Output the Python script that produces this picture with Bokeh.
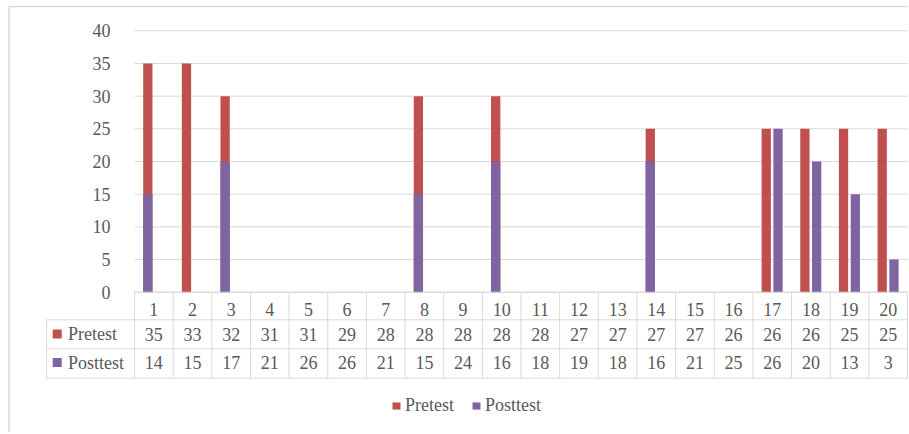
from bokeh.plotting import figure
from bokeh.models import (Range1d, FixedTicker, Legend, LegendItem, ColumnDataSource)
from bokeh.core.properties import value
from bokeh.embed import file_html
from bokeh.resources import INLINE

# ---------------- data ----------------
categories = [str(i) for i in range(1, 21)]
series_names = ["Pretest", "Posttest"]
# values shown in the data table
pretest = [35, 33, 32, 31, 31, 29, 28, 28, 28, 28, 28, 27, 27, 27, 27, 26, 26, 26, 25, 25]
posttest = [14, 15, 17, 21, 26, 26, 21, 15, 24, 16, 18, 19, 18, 16, 21, 25, 26, 20, 13, 3]
# bar heights as drawn in the chart
pretest_bar = [35, 35, 30, 0, 0, 0, 0, 30, 0, 30, 0, 0, 0, 25, 0, 0, 25, 25, 25, 25]
posttest_bar = [15, 0, 20, 0, 0, 0, 0, 15, 0, 20, 0, 0, 0, 20, 0, 0, 25, 20, 15, 5]
y_ticks = [0, 5, 10, 15, 20, 25, 30, 35, 40]

# ---------------- styles ----------------
RED = "#C0504D"
PURPLE = "#8064A2"
GRID = "#D9D9D9"
TXT = "#595959"
FONT = "Liberation Serif"
FS = "18px"

W, H = 908, 432
PXX = 38.65   # px per x unit
PXY = 6.535   # px per y unit
x0 = 0.5 - 134 / PXX
x1 = x0 + W / PXX
y1 = 40 + 30.3 / PXY
y0 = y1 - H / PXY

p = figure(width=W, height=H, output_backend="svg", toolbar_location=None,
           x_range=Range1d(x0, x1), y_range=Range1d(y0, y1),
           min_border=0, min_border_left=0, min_border_right=0,
           min_border_top=0, min_border_bottom=0)
p.outline_line_color = None
p.background_fill_color = "white"
p.border_fill_color = "white"
p.xgrid.visible = False
p.ygrid.visible = False

xs = [float(c) for c in categories]
n = len(xs)

# y axis at left edge of the table area
p.yaxis.fixed_location = 0.5
p.yaxis.ticker = FixedTicker(ticks=y_ticks)
p.yaxis.axis_line_color = None
p.yaxis.major_tick_line_color = None
p.yaxis.minor_tick_line_color = None
p.yaxis.major_label_standoff = 18
p.yaxis.major_label_text_font = FONT
p.yaxis.major_label_text_font_size = FS
p.yaxis.major_label_text_color = TXT

# x axis labels = table header row
p.xaxis.fixed_location = 0
p.xaxis.ticker = FixedTicker(ticks=xs)
p.xaxis.major_label_overrides = {float(c): c for c in categories}
p.xaxis.axis_line_color = None
p.xaxis.major_tick_line_color = None
p.xaxis.minor_tick_line_color = None
p.xaxis.major_label_standoff = 5
p.xaxis.major_label_text_font = FONT
p.xaxis.major_label_text_font_size = FS
p.xaxis.major_label_text_color = TXT

# gridlines (only over the plotting area)
p.segment(x0=[0.5] * len(y_ticks), x1=[20.5] * len(y_ticks), y0=y_ticks, y1=y_ticks,
          line_color=GRID, line_width=1)

# outer chart border (left & top)
bx = x0 + 8.5 / PXX
by = y1 - 6 / PXY
p.segment(x0=[bx, bx], x1=[bx, x1], y0=[y0, by], y1=[by, by], line_color=GRID, line_width=1.5)

# bars
off_l = -0.155
off_r = 0.15
bw = 0.24
red_src = ColumnDataSource(dict(x=[v + off_l for v in xs], top=pretest_bar))
red_r = p.vbar(x="x", top="top", width=bw, bottom=0, source=red_src,
               fill_color=RED, line_color=None)
split = 16
pur1 = ColumnDataSource(dict(x=[v + off_l for v in xs[:split]], top=posttest_bar[:split]))
pur2 = ColumnDataSource(dict(x=[v + off_r for v in xs[split:]], top=posttest_bar[split:]))
pur_r = p.vbar(x="x", top="top", width=bw, bottom=0, source=pur1,
               fill_color=PURPLE, line_color=None)
p.vbar(x="x", top="top", width=bw, bottom=0, source=pur2,
       fill_color=PURPLE, line_color=None)

# data table
r0 = 0.0
r1 = -(319.3 - 291.7) / PXY
r2 = -(348.3 - 291.7) / PXY
r3 = -(377.7 - 291.7) / PXY
lab_left = 0.5 - (134 - 46) / PXX
vx = [v - 0.5 for v in xs] + [20.5]
p.segment(x0=vx, x1=vx, y0=[r0] * len(vx), y1=[r3] * len(vx), line_color=GRID, line_width=1)
p.segment(x0=[lab_left], x1=[lab_left], y0=[r1], y1=[r3], line_color=GRID, line_width=1)
p.segment(x0=[0.5, lab_left, lab_left, lab_left], x1=[20.5] * 4,
          y0=[r0, r1, r2, r3], y1=[r0, r1, r2, r3], line_color=GRID, line_width=1)

yc_pre = -(333.5 - 291.7) / PXY
yc_post = -(362.0 - 291.7) / PXY
p.text(x=xs, y=[yc_pre] * n, text=[str(v) for v in pretest], text_font=value(FONT),
       text_font_size=FS, text_color=TXT, text_align="center", text_baseline="middle")
p.text(x=xs, y=[yc_post] * n, text=[str(v) for v in posttest], text_font=value(FONT),
       text_font_size=FS, text_color=TXT, text_align="center", text_baseline="middle")

# row labels with key squares
sq_x = 0.5 - (134 - 56.7) / PXX
lab_x = 0.5 - (134 - 67.5) / PXX
p.scatter(x=[sq_x, sq_x], y=[yc_pre, yc_post], marker="square", size=9,
          fill_color=[RED, PURPLE], line_color=None)
p.text(x=[lab_x, lab_x], y=[yc_pre, yc_post], text=series_names, text_font=value(FONT),
       text_font_size=FS, text_color=TXT, text_align="left", text_baseline="middle")

# bottom legend
legend = Legend(items=[LegendItem(label=series_names[0], renderers=[red_r]),
                       LegendItem(label=series_names[1], renderers=[pur_r])],
                orientation="horizontal", location=(391, 16),
                glyph_width=10, glyph_height=9, label_standoff=4, spacing=17,
                padding=0, margin=0, label_height=20,
                label_text_font=FONT, label_text_font_size=FS, label_text_color=TXT,
                background_fill_alpha=0, border_line_color=None)
p.add_layout(legend)

open("out.html", "w").write(file_html(p, INLINE))
